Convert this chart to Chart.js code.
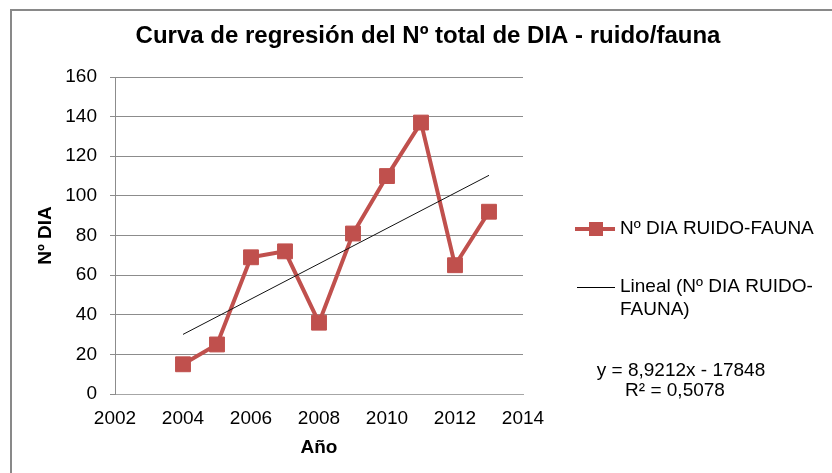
<!DOCTYPE html>
<html>
<head>
<meta charset="utf-8">
<script src="https://cdn.jsdelivr.net/npm/chart.js@4"></script>
<style>
  html, body { margin: 0; padding: 0; background: #fff; overflow: hidden; }
  #frame {
    position: absolute; left: 10px; top: 9px;
    width: 820px; height: 462px;
    border-left: 2px solid #898989; border-top: 2px solid #898989;
  }
</style>
</head>
<body>
<div id="frame"><canvas id="myChart" width="820" height="462"></canvas></div>
<script>
// data
var years = [2004, 2005, 2006, 2007, 2008, 2009, 2010, 2011, 2012, 2013];
var diaValues = [15, 25, 69, 72, 36, 81, 110, 137, 65, 92];
// trend line as printed on the chart
var trendSlope = 8.9212;
var trendIntercept = -17848;
var trendText = ["y = 8,9212x - 17848", "R\u00b2 = 0,5078"];
var chartTitle = "Curva de regresi\u00f3n del N\u00ba total de DIA - ruido/fauna";
var seriesLabel = "N\u00ba DIA RUIDO-FAUNA";
var trendLabel = ["Lineal (N\u00ba DIA RUIDO-", "FAUNA)"];

var red = "#C0504D";
var gridGray = "#8c8c8c";
var fontFam = "'Liberation Sans', Arial, sans-serif";

var pts = years.map(function (y, i) { return { x: y, y: diaValues[i] }; });
var x0 = years[0], x1 = years[years.length - 1];
var trendPts = [
  { x: x0, y: trendSlope * x0 + trendIntercept },
  { x: x1, y: trendSlope * x1 + trendIntercept }
];

// title, legend and equation drawn outside the plot box
var sideLegend = {
  id: "sideLegend",
  afterDraw: function (chart) {
    var ctx = chart.ctx;
    ctx.save();
    ctx.fillStyle = "#000";
    ctx.textBaseline = "middle";
    ctx.textAlign = "center";
    ctx.font = "bold 24px " + fontFam;
    ctx.fillText(chartTitle, 416, 25);

    ctx.font = "19px " + fontFam;
    ctx.textAlign = "left";
    // series
    ctx.strokeStyle = red;
    ctx.lineWidth = 4;
    ctx.beginPath(); ctx.moveTo(563, 218); ctx.lineTo(603, 218); ctx.stroke();
    ctx.fillStyle = red;
    ctx.fillRect(577, 211, 14, 14);
    ctx.fillStyle = "#000";
    ctx.fillText(seriesLabel, 608, 218);
    // trend
    ctx.strokeStyle = "#000";
    ctx.lineWidth = 1;
    ctx.beginPath(); ctx.moveTo(565, 276.5); ctx.lineTo(603, 276.5); ctx.stroke();
    ctx.fillText(trendLabel[0], 608, 276);
    ctx.fillText(trendLabel[1], 608, 299);
    // equation
    ctx.textAlign = "center";
    ctx.fillText(trendText[0], 669, 360);
    ctx.fillText(trendText[1], 663, 380);
    ctx.restore();
  }
};

var c = document.getElementById("myChart");
new Chart(c, {
  type: "scatter",
  data: {
    datasets: [
      {
        label: seriesLabel,
        data: pts,
        showLine: true,
        borderColor: red,
        backgroundColor: red,
        borderWidth: 4,
        pointStyle: "rect",
        pointRadius: 10.5,
        pointBorderWidth: 1,
        pointBorderColor: red,
        pointBackgroundColor: red,
        order: 1
      },
      {
        label: trendLabel.join(""),
        data: trendPts,
        showLine: true,
        borderColor: "#111",
        borderWidth: 1,
        pointRadius: 0,
        order: 0
      }
    ]
  },
  options: {
    responsive: false,
    animation: false,
    layout: { padding: { left: 18.6, right: 309, top: 66, bottom: 10 } },
    plugins: {
      legend: { display: false },
      tooltip: { enabled: false },
      title: { display: false }
    },
    scales: {
      x: {
        type: "linear",
        min: 2002,
        max: 2014,
        ticks: {
          stepSize: 2,
          padding: 13,
          color: "#000",
          font: { family: fontFam, size: 19 },
          callback: function (v) { return String(v); }
        },
        grid: { display: false, drawTicks: false },
        border: { display: true, color: "#a6a6a6", width: 1 },
        title: {
          display: true,
          text: "A\u00f1o",
          color: "#000",
          font: { family: fontFam, size: 19, weight: "bold" }
        },
        afterFit: function (s) { s.height = 69; }
      },
      y: {
        min: 0,
        max: 160,
        ticks: {
          stepSize: 20,
          padding: 13,
          color: "#000",
          font: { family: fontFam, size: 19 }
        },
        grid: { color: gridGray, tickLength: 5, drawTicks: true },
        border: { display: true, color: gridGray, width: 1 },
        title: {
          display: true,
          text: "N\u00ba DIA",
          color: "#000",
          font: { family: fontFam, size: 19, weight: "bold" }
        },
        afterFit: function (s) { s.width = 84.4; }
      }
    }
  },
  plugins: [sideLegend]
});
</script>
</body>
</html>
